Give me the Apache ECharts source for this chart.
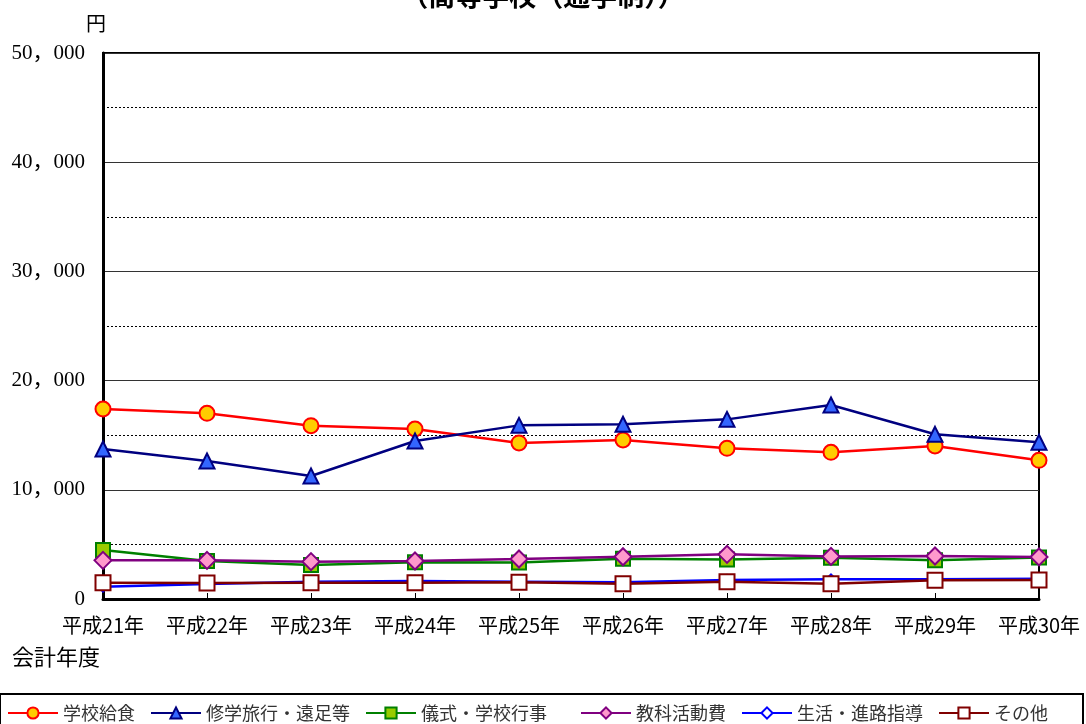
<!DOCTYPE html>
<html><head><meta charset="utf-8">
<script src="https://cdn.jsdelivr.net/npm/echarts@6/dist/echarts.min.js"></script>
<style>html,body{margin:0;padding:0;background:#fff}#c{width:1086px;height:724px}</style>
</head><body><div id="c"></div>
<script>
var categories = ['平成21年','平成22年','平成23年','平成24年','平成25年','平成26年','平成27年','平成28年','平成29年','平成30年'];
var kyushoku = [17400,17000,15870,15570,14290,14560,13800,13430,14010,12700];
var shugaku = [13740,12640,11260,14470,15900,16000,16450,17770,15080,14350];
var gishiki = [4490,3480,3110,3360,3350,3690,3620,3780,3540,3810];
var kyoka   = [3540,3540,3420,3480,3660,3870,4090,3900,3940,3850];
var seikatsu= [1130,1370,1590,1650,1590,1530,1740,1800,1800,1860];
var sonota  = [1490,1470,1490,1490,1530,1400,1590,1400,1710,1740];

var cjk = '"Noto Sans CJK JP", sans-serif';
var serif = '"Liberation Serif", "Noto Sans CJK JP", serif';
function mk(name, data, lineColor, fill, symbol, size, bw){
  return {name:name, type:'line', data:data, symbol:symbol, symbolSize:size,
    lineStyle:{color:lineColor, width:2.5}, itemStyle:{color:fill, borderColor:lineColor, borderWidth:bw||2},
    emphasis:{disabled:true}, animation:false};
}
var chart = echarts.init(document.getElementById('c'));
chart.setOption({
  backgroundColor:'#fff',
  title:{text:'（高等学校（通学制））', left:'center', top:-23, textStyle:{fontFamily:cjk, fontSize:27, fontWeight:'bold', color:'#000'}},
  grid:{left:103, right:47, top:53, bottom:125, show:true, borderColor:'#000', borderWidth:2, containLabel:false},
  xAxis:{type:'category', data:categories, boundaryGap:false,
    axisLine:{lineStyle:{color:'#000', width:3}},
    axisTick:{show:true, inside:true, length:6, interval:0, lineStyle:{color:'#000'}},
    axisLabel:{color:'#000', fontFamily:cjk, fontSize:20, margin:16, interval:0, hideOverlap:false},
    name:'会計年度', nameLocation:'start', nameGap:0,
    nameTextStyle:{fontFamily:cjk, fontSize:22, color:'#000', align:'left', verticalAlign:'top', padding:[47,0,0,-91]}
  },
  yAxis:{type:'value', min:0, max:50000, interval:10000,
    name:'円', nameLocation:'end', nameGap:20,
    nameTextStyle:{fontFamily:cjk, fontSize:20, color:'#000', align:'right', padding:[0,-3,0,0]},
    axisLine:{show:true, lineStyle:{color:'#000', width:3}},
    axisTick:{show:false},
    axisLabel:{color:'#000', fontFamily:serif, fontSize:21, margin:18,
      formatter:function(v){ return v===0 ? '0' : (v/1000)+'，000'; }},
    splitLine:{show:true, lineStyle:{color:'#333', width:1}},
    minorTick:{show:false, splitNumber:2},
    minorSplitLine:{show:true, lineStyle:{color:'#000', width:1, type:[2,2]}}
  },
  legend:{left:2, top:699, itemWidth:50, itemHeight:14, itemGap:15,
    textStyle:{fontFamily:cjk, fontSize:18, color:'#333'},
    formatter:function(n){ return n==='儀式・学校行事' ? n+'　' : n; },
    data:['学校給食','修学旅行・遠足等','儀式・学校行事','教科活動費','生活・進路指導','その他']},
  graphic:[{type:'rect', shape:{x:0, y:694, width:1083, height:40}, style:{fill:'none', stroke:'#000', lineWidth:2}}],
  series:[
    mk('学校給食', kyushoku, '#FF0000', '#FFCC00', 'circle', 15),
    mk('修学旅行・遠足等', shugaku, '#000080', '#3366FF', 'triangle', 15),
    mk('儀式・学校行事', gishiki, '#008000', '#99CC00', 'rect', 14),
    mk('教科活動費', kyoka, '#800080', '#FF99CC', 'diamond', 17),
    mk('生活・進路指導', seikatsu, '#0000FF', '#FFFFFF', 'diamond', 10),
    mk('その他', sonota, '#800000', '#FFFFFF', 'rect', 15)
  ]
});
</script></body></html>
